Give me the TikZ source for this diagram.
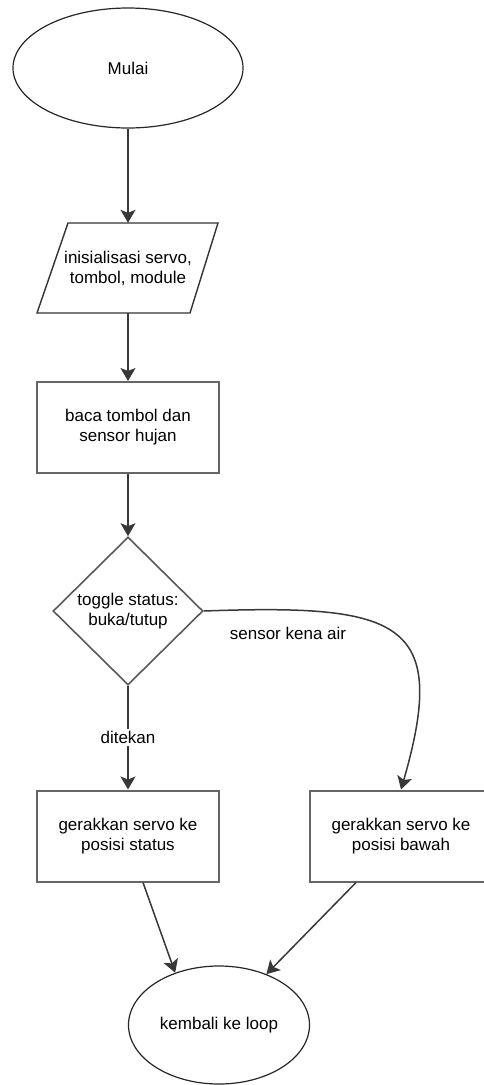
\documentclass[tikz,border=0pt]{standalone}
\usepackage{fontspec}
\setmainfont{Liberation Sans}
\usetikzlibrary{shapes.geometric,arrows.meta,calc}
\begin{document}
\begin{tikzpicture}[x=1pt,y=-1pt,
  font=\fontsize{17}{20}\selectfont,
  every node/.style={align=center, text=black},
  term/.style={ellipse, draw=black!85, line width=1.2pt, inner sep=0pt},
  proc/.style={rectangle, draw=black!60, line width=2pt, minimum width=182pt, minimum height=91pt, inner sep=0pt},
  dec/.style={diamond, aspect=1, draw=black!65, line width=1.6pt, minimum width=150pt, minimum height=148pt, inner sep=0pt},
  iobox/.style={draw=black!80, line width=1.4pt},
  link/.style={draw=black!78, line width=1.5pt, -{Stealth[length=13pt,width=15pt,inset=3pt]}},
  lab/.style={fill=white, inner sep=2pt}
]
\clip (0,0) rectangle (484,1085);
\node[term, minimum width=230pt, minimum height=120pt] (start) at (128,68) {Mulai};
% parallelogram
\node[minimum width=150pt, minimum height=90pt, inner sep=0pt] (init) at (128,268) {inisialisasi servo,\\tombol, module};
\draw[iobox] (68,223) -- (218,223) -- (190,313) -- (37,313) -- cycle;
\node[proc] (read) at (128,427.5) {baca tombol dan\\sensor hujan};
\node[dec] (dec) at (128,611) {toggle status:\\buka/tutup};
\node[proc] (lr) at (128,836) {gerakkan servo ke\\posisi status};
\node[proc] (rr) at (401,836) {gerakkan servo ke\\posisi bawah};
\node[term, minimum width=181pt, minimum height=118pt] (end) at (219,1025) {kembali ke loop};

\draw[link] (start.south) -- (init.north);
\draw[link] (init.south) -- (read.north);
\draw[link] (read.south) -- (dec.north);
\draw[link] (dec.south) -- node[lab] {ditekan} (lr.north);
\draw[link] (dec.east) .. controls (400,604) and (450,620) .. (rr.north);
\node (lab2) at (288,633) {sensor kena air};
\draw[link] ($(lr.south)+(15,0)$) -- (end.130);
\draw[link] ($(rr.south)+(-45,0)$) -- (end.47);
\end{tikzpicture}
\end{document}
